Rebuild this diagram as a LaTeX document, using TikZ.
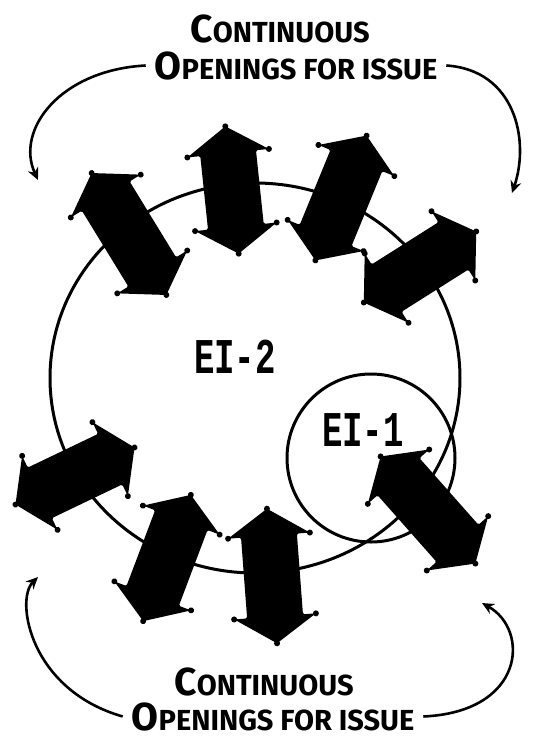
\documentclass[tikz,border=0pt]{standalone}
\usepackage{fontspec}
\setmainfont{Fira Sans}
\newfontfamily\tagfont{Liberation Mono}
\usetikzlibrary{arrows.meta}

\newcommand{\initcap}[1]{{\fontsize{39}{39}\selectfont #1}}

\begin{document}
\begin{tikzpicture}[x=1pt,y=-1pt,
 ring/.style={draw,line width=3pt},
 caption/.style={font=\bfseries\fontsize{29}{29}\selectfont,inner sep=0pt,outer sep=9pt,anchor=base},
 conn/.style={line width=2.6pt,-{Stealth[length=12pt,width=11pt]}},
 tag/.style={font=\tagfont\bfseries\fontsize{50}{50}\selectfont,inner sep=0pt,xscale=0.68,transform shape}]
\useasboundingbox (0,0) rectangle (545,740);
% circles of the two issues
\draw[ring] (255,378) ellipse (205 and 195);
\draw[ring] (371,458) circle (84);
\node[tag] (ei2) at (235,357) {EI-2};
\node[tag] (ei1) at (363,430) {EI-1};
% the fat two-way arrows round the rim
\foreach \cx/\cy/\ang/\len in {129/234/-58.5/143, 232/190/-84/128, 341/198/67.7/135,
  420/267/32.3/133, 75/476/25.6/132, 167/558/69.3/135, 272/576/94.3/135, 428/510/-48.5/143}{
  \pgfmathsetmacro\tip{\len/2}
  \pgfmathsetmacro\bb{\len/2-27}
  \begin{scope}[shift={(\cx,\cy)},rotate=\ang]
    \fill[rounded corners=1.5pt] (-\bb,28) -- (\bb,28) -- (\bb,41) -- (\tip,0) -- (\bb,-41)
      -- (\bb,-28) -- (-\bb,-28) -- (-\bb,-41) -- (-\tip,0) -- (-\bb,41) -- cycle;
    \foreach \px/\py in {\tip/0, -\tip/0, \bb/41, \bb/-41, -\bb/41, -\bb/-41}
      \fill (\px,\py) circle (3);
  \end{scope}
}
% captions
\node[caption] (topA) at (280,42) {\initcap{C}ONTINUOUS};
\node[caption] (topB) at (296,79) {\initcap{O}PENINGS FOR ISSUE};
\node[caption] (botA) at (264,695) {\initcap{C}ONTINUOUS};
\node[caption] (botB) at (273,730) {\initcap{O}PENINGS FOR ISSUE};
\coordinate (nw) at (38,180);
\coordinate (ne) at (512,193);
\coordinate (sw) at (38,577);
\coordinate (se) at (482,603);
\draw[conn] (topB.west) .. controls (60,70) and (15,130) .. (nw);
\draw[conn] (topB.east) .. controls (515,70) and (530,140) .. (ne);
\draw[conn] (botB.west) .. controls (30,690) and (15,600) .. (sw);
\draw[conn] (botB.east) .. controls (525,712) and (530,630) .. (se);
\end{tikzpicture}
\end{document}
